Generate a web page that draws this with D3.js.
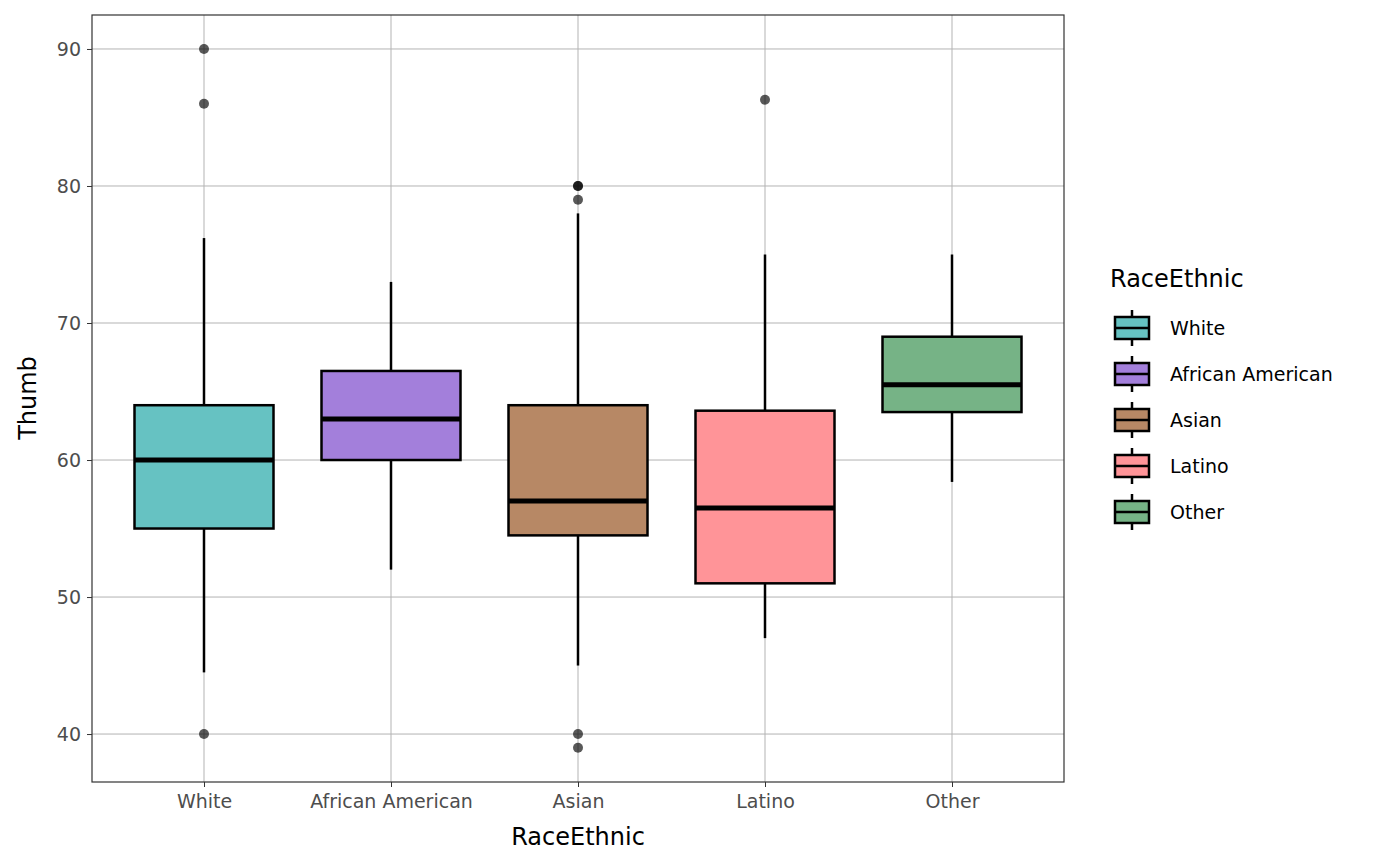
<!DOCTYPE html>
<html><head><meta charset="utf-8">
<script src="https://cdn.jsdelivr.net/npm/d3@7"></script>
<style>body{margin:0;background:#fff;font-family:"DejaVu Sans",sans-serif}</style>
</head><body><svg id="c" width="1400" height="866"></svg>
<script>
const categories=["White","African American","Asian","Latino","Other"];
const colors=["#66c2c2","#a37fdb","#b78865","#ff9498","#76b386"];
const lowWhisker=[44.5,52,45,47,58.4];
const q1=[55,60,54.5,51,63.5];
const median=[60,63,57,56.5,65.5];
const q3=[64,66.5,64,63.6,69];
const highWhisker=[76.2,73,78,75,75];
const outliers=[[90,86,40],[],[80,80,79,40,39],[86.3],[]];
const yTicks=[40,50,60,70,80,90];

const svg=d3.select("#c");
const L=92,R=1064,T=15,B=782;
const x=d3.scaleBand().domain(categories).range([L,R]).padding(0.25).paddingOuter(0.25/2+0.0);
const xc=d3.scalePoint().domain(categories).range([204,952]);
const y=d3.scaleLinear().domain([36.5,92.48]).range([B,T]);
const bw=139;
const g=svg.append("g");
// grid
g.selectAll(".gy").data(yTicks).join("line").attr("x1",L).attr("x2",R).attr("y1",d=>y(d)).attr("y2",d=>y(d)).attr("stroke","#b3b3b3").attr("stroke-width",1);
g.selectAll(".gx").data(categories).join("line").attr("x1",d=>xc(d)).attr("x2",d=>xc(d)).attr("y1",T).attr("y2",B).attr("stroke","#b3b3b3").attr("stroke-width",1);
categories.forEach((c,i)=>{
  const cx=xc(c);
  g.append("line").attr("x1",cx).attr("x2",cx).attr("y1",y(q3[i])).attr("y2",y(highWhisker[i])).attr("stroke","#000").attr("stroke-width",2.5);
  g.append("line").attr("x1",cx).attr("x2",cx).attr("y1",y(q1[i])).attr("y2",y(lowWhisker[i])).attr("stroke","#000").attr("stroke-width",2.5);
  g.append("rect").attr("x",cx-bw/2).attr("width",bw).attr("y",y(q3[i])).attr("height",y(q1[i])-y(q3[i])).attr("fill",colors[i]).attr("stroke","#000").attr("stroke-width",2.5);
  g.append("line").attr("x1",cx-bw/2).attr("x2",cx+bw/2).attr("y1",y(median[i])).attr("y2",y(median[i])).attr("stroke","#000").attr("stroke-width",5);
  outliers[i].forEach(v=>g.append("circle").attr("cx",cx).attr("cy",y(v)).attr("r",5).attr("fill","#000").attr("fill-opacity",0.65));
});
g.append("rect").attr("x",L).attr("y",T).attr("width",R-L).attr("height",B-T).attr("fill","none").attr("stroke","#333").attr("stroke-width",1.2);
// axes
const ya=svg.append("g").attr("transform",`translate(${L},0)`).call(d3.axisLeft(y).tickValues(yTicks).tickSize(5).tickPadding(6));
const xa=svg.append("g").attr("transform",`translate(0,${B})`).call(d3.axisBottom(xc).tickSize(5).tickPadding(8));
[ya,xa].forEach(a=>{a.select(".domain").remove();a.selectAll("line").attr("stroke","#333");a.selectAll("text").attr("font-size",19).attr("fill","#4d4d4d").attr("font-family","DejaVu Sans");});
svg.append("text").attr("x",578).attr("y",845).attr("text-anchor","middle").attr("font-size",24).text("RaceEthnic");
svg.append("text").attr("transform","translate(36,398) rotate(-90)").attr("text-anchor","middle").attr("font-size",24).text("Thumb");
// legend
svg.append("text").attr("x",1110).attr("y",287).attr("font-size",24).text("RaceEthnic");
categories.forEach((c,i)=>{
  const ky=328+i*46;
  const lg=svg.append("g");
  lg.append("line").attr("x1",1132).attr("x2",1132).attr("y1",ky-18).attr("y2",ky+18).attr("stroke","#000").attr("stroke-width",2.5);
  lg.append("rect").attr("x",1115).attr("y",ky-11).attr("width",34).attr("height",22).attr("fill",colors[i]).attr("stroke","#000").attr("stroke-width",2.5);
  lg.append("line").attr("x1",1115).attr("x2",1149).attr("y1",ky).attr("y2",ky).attr("stroke","#000").attr("stroke-width",2.5);
  lg.append("text").attr("x",1170).attr("y",ky+7).attr("font-size",19).text(c);
});
</script></body></html>
